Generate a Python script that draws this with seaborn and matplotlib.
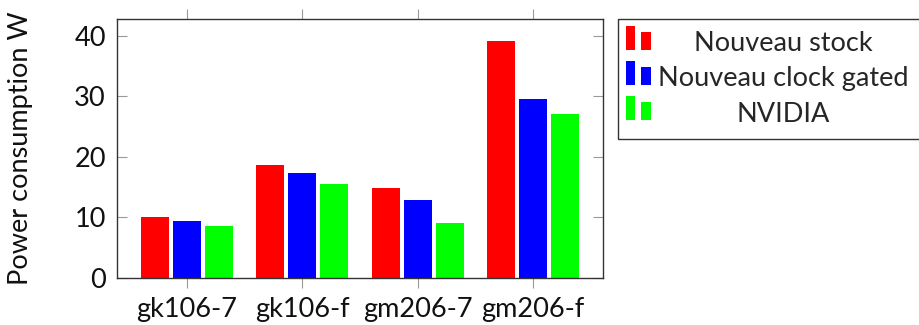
import matplotlib
matplotlib.use("Agg")
import matplotlib.pyplot as plt
import seaborn as sns
import pandas as pd
from matplotlib.legend_handler import HandlerBase
from matplotlib.patches import Rectangle

categories = ["gk106-7", "gk106-f", "gm206-7", "gm206-f"]
series_names = ["Nouveau stock", "Nouveau clock gated", "NVIDIA"]
nouveau_stock = [10.1, 18.7, 14.9, 39.1]
nouveau_clock_gated = [9.5, 17.3, 12.9, 29.5]
nvidia = [8.6, 15.5, 9.1, 27.1]
colors = ["#ff0000", "#0000ff", "#00ff00"]

rows = []
for name, vals in zip(series_names, [nouveau_stock, nouveau_clock_gated, nvidia]):
    for c, v in zip(categories, vals):
        rows.append({"cat": c, "series": name, "value": v})
df = pd.DataFrame(rows)

sns.set_theme(style="white")
plt.rcParams["font.family"] = ["Lato", "DejaVu Sans"]

FS = 19.5

fig = plt.figure(figsize=(9.19, 3.25), dpi=100)
ax = fig.add_axes([117 / 919, 1 - 278 / 325, 486 / 919, 259 / 325])

sns.barplot(data=df, x="cat", y="value", hue="series", palette=colors,
            order=categories, hue_order=series_names, width=0.83, gap=0.13,
            saturation=1, ax=ax, legend=False, edgecolor="none")

ax.set_xlim(-0.606, 3.606)
ax.set_ylim(0, 42.8)
ax.set_yticks([0, 10, 20, 30, 40])
ax.set_xlabel("")
ax.set_ylabel("Power consumption W", fontsize=FS, color="#111111")
ax.yaxis.set_label_coords(-0.173, 0.5)

for s in ax.spines.values():
    s.set_visible(True)
    s.set_color("#333333")
    s.set_linewidth(1.0)

ax.tick_params(axis="y", which="both", direction="in", left=True, right=True,
               length=7.5, width=0.8, color="#999999", labelsize=FS,
               labelcolor="#111111", pad=8)
ax.tick_params(axis="x", which="both", direction="out", bottom=True, top=True,
               length=7.5, width=0.8, color="#999999", labelsize=FS,
               labelcolor="#111111", pad=6)


class TwoBarHandler(HandlerBase):
    def create_artists(self, legend, orig_handle, xdescent, ydescent, width,
                       height, fontsize, trans):
        fc = orig_handle.get_facecolor()
        bw = 6.8
        x0 = -xdescent - 3
        y0 = -ydescent + 1
        r1 = Rectangle((x0, y0), bw, 17.3, facecolor=fc, edgecolor="none",
                       transform=trans)
        r2 = Rectangle((x0 + bw + 4.3, y0), bw, 13, facecolor=fc,
                       edgecolor="none", transform=trans)
        return [r1, r2]


handles = [Rectangle((0, 0), 1, 1, facecolor=c) for c in colors]
leg = fig.legend(handles, series_names, loc="upper left",
                 bbox_to_anchor=(618 / 919, 1 - 19 / 325),
                 bbox_transform=fig.transFigure, fontsize=FS,
                 frameon=True, fancybox=False, edgecolor="#333333",
                 framealpha=1, handler_map={Rectangle: TwoBarHandler()},
                 handlelength=0.8, handletextpad=0.24, labelspacing=0.38,
                 handleheight=0.7, borderpad=0.45, borderaxespad=0)
leg.get_frame().set_linewidth(1.0)

fig.canvas.draw()
r = fig.canvas.get_renderer()
widths = [t.get_window_extent(r).width for t in leg.get_texts()]
mw = max(widths)
for t, w in zip(leg.get_texts(), widths):
    t.set_position(((mw - w) / 2, 0))

fig.savefig("out.png", dpi=100)
